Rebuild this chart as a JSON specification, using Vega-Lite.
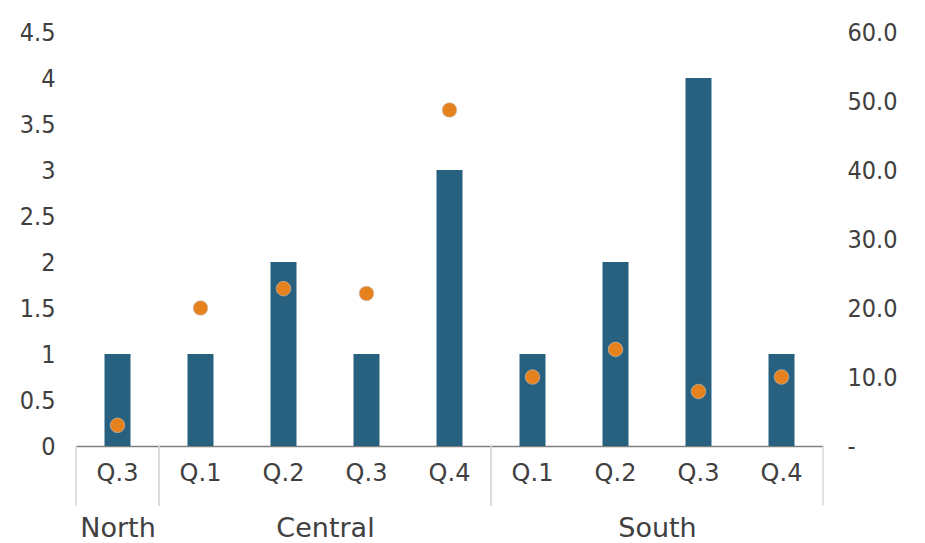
{
  "$schema": "https://vega.github.io/schema/vega-lite/v6.json",
  "background": "white",
  "padding": {"left": 5, "top": 20, "right": 5, "bottom": 5},
  "datasets": {
    "sales": [
      {"region": "North", "quarter": "Q.3", "count": 1, "share": 3.0},
      {"region": "Central", "quarter": "Q.1", "count": 1, "share": 20.0},
      {"region": "Central", "quarter": "Q.2", "count": 2, "share": 22.8},
      {"region": "Central", "quarter": "Q.3", "count": 1, "share": 22.1},
      {"region": "Central", "quarter": "Q.4", "count": 3, "share": 48.7},
      {"region": "South", "quarter": "Q.1", "count": 1, "share": 10.0},
      {"region": "South", "quarter": "Q.2", "count": 2, "share": 14.0},
      {"region": "South", "quarter": "Q.3", "count": 4, "share": 7.9},
      {"region": "South", "quarter": "Q.4", "count": 1, "share": 10.0}
    ]
  },
  "data": {"name": "sales"},
  "config": {
    "view": {"stroke": null},
    "axis": {
      "grid": false,
      "ticks": false,
      "labelColor": "#404040",
      "titleColor": "#404040"
    },
    "axisX": {
      "labelAngle": 0,
      "labelFont": "DejaVu Sans",
      "labelFontSize": 24,
      "labelPadding": 15,
      "domainColor": "#7f7f7f",
      "domainWidth": 1.5,
      "titleFont": "DejaVu Sans",
      "titleFontSize": 27,
      "titleFontWeight": "normal",
      "titlePadding": 30
    },
    "axisY": {
      "domain": false,
      "title": null,
      "labelFont": "DejaVu Sans Condensed",
      "labelFontSize": 25
    }
  },
  "spacing": 0,
  "bounds": "flush",
  "align": "none",
  "resolve": {"scale": {"x": "independent", "y": "independent"}},
  "hconcat": [
    {
      "width": 83,
      "height": 414,
      "transform": [{"filter": "datum.region === 'North'"}],
      "encoding": {
        "x": {
          "field": "quarter",
          "type": "nominal",
          "scale": {"paddingInner": 0, "paddingOuter": 0},
          "axis": {"title": "North"}
        }
      },
      "layer": [
        {
          "mark": {"type": "bar", "width": {"band": 0.313}, "color": "#28607F"},
          "encoding": {
            "y": {
              "field": "count",
              "type": "quantitative",
              "scale": {"domain": [0, 4.5]},
              "axis": {
                "orient": "left",
                "values": [0, 0.5, 1, 1.5, 2, 2.5, 3, 3.5, 4, 4.5],
                "format": "~g",
                "labelPadding": 21,
                "minExtent": 71,
                "maxExtent": 71
              }
            }
          }
        },
        {
          "mark": {"type": "circle", "size": 215, "fill": "#E6821E", "stroke": "#c4c4c4", "strokeWidth": 0.6, "opacity": 1},
          "encoding": {
            "y": {"field": "share", "type": "quantitative", "scale": {"domain": [0, 60]}, "axis": null}
          }
        },
        {
          "transform": [{"aggregate": [{"op": "count", "as": "n"}]}],
          "mark": {"type": "rule", "color": "#d9d9d9", "strokeWidth": 1.5},
          "encoding": {
            "x": {"datum": "Q.3", "bandPosition": 0},
            "y": {"datum": 0, "scale": {"domain": [0, 4.5]}, "axis": null},
            "y2": {"datum": -0.65}
          }
        },
        {
          "transform": [{"aggregate": [{"op": "count", "as": "n"}]}],
          "mark": {"type": "rule", "color": "#d9d9d9", "strokeWidth": 1.5},
          "encoding": {
            "x": {"datum": "Q.3", "bandPosition": 1},
            "y": {"datum": 0, "scale": {"domain": [0, 4.5]}, "axis": null},
            "y2": {"datum": -0.65}
          }
        }
      ],
      "resolve": {"scale": {"y": "independent"}}
    },
    {
      "width": 332,
      "height": 414,
      "transform": [{"filter": "datum.region === 'Central'"}],
      "encoding": {
        "x": {
          "field": "quarter",
          "type": "nominal",
          "scale": {"paddingInner": 0, "paddingOuter": 0},
          "axis": {"title": "Central"}
        }
      },
      "layer": [
        {
          "mark": {"type": "bar", "width": {"band": 0.313}, "color": "#28607F"},
          "encoding": {
            "y": {"field": "count", "type": "quantitative", "scale": {"domain": [0, 4.5]}, "axis": null}
          }
        },
        {
          "mark": {"type": "circle", "size": 215, "fill": "#E6821E", "stroke": "#c4c4c4", "strokeWidth": 0.6, "opacity": 1},
          "encoding": {
            "y": {"field": "share", "type": "quantitative", "scale": {"domain": [0, 60]}, "axis": null}
          }
        },
        {
          "transform": [{"aggregate": [{"op": "count", "as": "n"}]}],
          "mark": {"type": "rule", "color": "#d9d9d9", "strokeWidth": 1.5},
          "encoding": {
            "x": {"datum": "Q.1", "bandPosition": 0},
            "y": {"datum": 0, "scale": {"domain": [0, 4.5]}, "axis": null},
            "y2": {"datum": -0.65}
          }
        },
        {
          "transform": [{"aggregate": [{"op": "count", "as": "n"}]}],
          "mark": {"type": "rule", "color": "#d9d9d9", "strokeWidth": 1.5},
          "encoding": {
            "x": {"datum": "Q.4", "bandPosition": 1},
            "y": {"datum": 0, "scale": {"domain": [0, 4.5]}, "axis": null},
            "y2": {"datum": -0.65}
          }
        }
      ],
      "resolve": {"scale": {"y": "independent"}}
    },
    {
      "width": 332,
      "height": 414,
      "transform": [{"filter": "datum.region === 'South'"}],
      "encoding": {
        "x": {
          "field": "quarter",
          "type": "nominal",
          "scale": {"paddingInner": 0, "paddingOuter": 0},
          "axis": {"title": "South"}
        }
      },
      "layer": [
        {
          "mark": {"type": "bar", "width": {"band": 0.313}, "color": "#28607F"},
          "encoding": {
            "y": {"field": "count", "type": "quantitative", "scale": {"domain": [0, 4.5]}, "axis": null}
          }
        },
        {
          "mark": {"type": "circle", "size": 215, "fill": "#E6821E", "stroke": "#c4c4c4", "strokeWidth": 0.6, "opacity": 1},
          "encoding": {
            "y": {
              "field": "share",
              "type": "quantitative",
              "scale": {"domain": [0, 60]},
              "axis": {
                "orient": "right",
                "values": [0, 10, 20, 30, 40, 50, 60],
                "labelExpr": "datum.value === 0 ? '-' : format(datum.value, '.1f')",
                "labelAlign": "left",
                "labelPadding": 24
              }
            }
          }
        },
        {
          "transform": [{"aggregate": [{"op": "count", "as": "n"}]}],
          "mark": {"type": "rule", "color": "#d9d9d9", "strokeWidth": 1.5},
          "encoding": {
            "x": {"datum": "Q.1", "bandPosition": 0},
            "y": {"datum": 0, "scale": {"domain": [0, 4.5]}, "axis": null},
            "y2": {"datum": -0.65}
          }
        },
        {
          "transform": [{"aggregate": [{"op": "count", "as": "n"}]}],
          "mark": {"type": "rule", "color": "#d9d9d9", "strokeWidth": 1.5},
          "encoding": {
            "x": {"datum": "Q.4", "bandPosition": 1},
            "y": {"datum": 0, "scale": {"domain": [0, 4.5]}, "axis": null},
            "y2": {"datum": -0.65}
          }
        }
      ],
      "resolve": {"scale": {"y": "independent"}}
    }
  ]
}
